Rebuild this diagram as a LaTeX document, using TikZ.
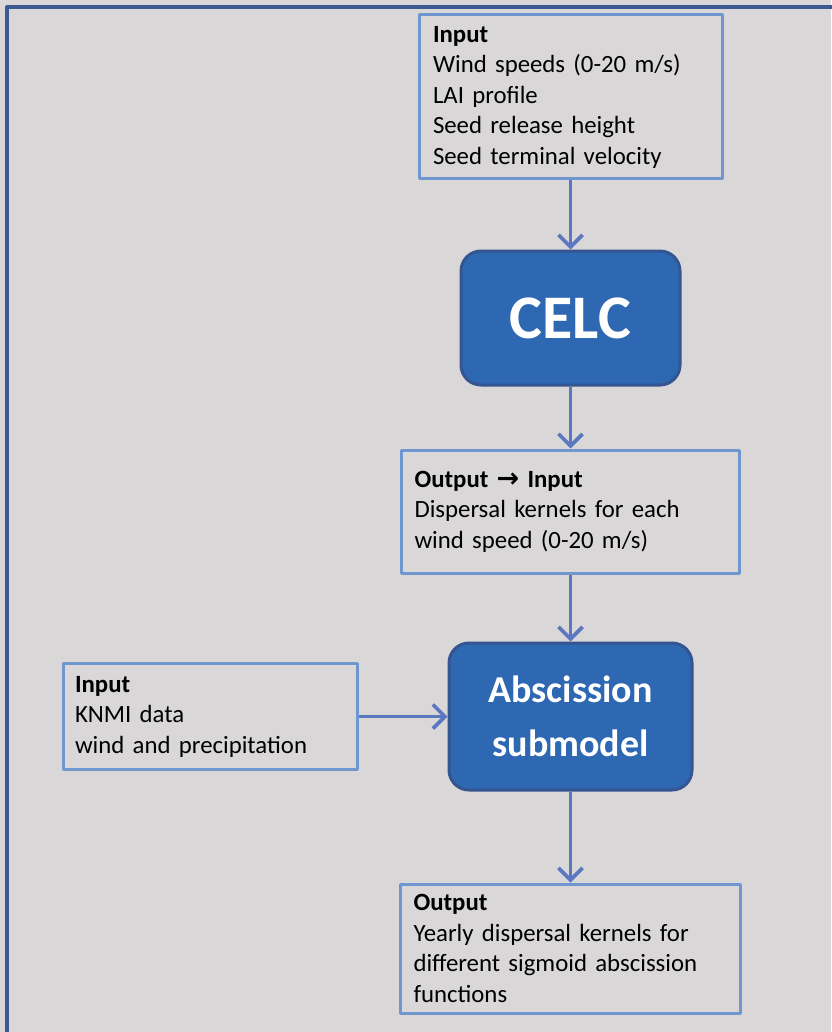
\documentclass[tikz,border=0pt]{standalone}
\usepackage{fontspec}
\setmainfont{Carlito}
\newfontfamily\arrowfont{DejaVu Sans}
\usetikzlibrary{arrows.meta}
\definecolor{pagegray}{HTML}{D9D7D8}
\definecolor{framblue}{HTML}{3E5894}
\definecolor{boxline}{HTML}{7096D0}
\definecolor{arrowblue}{HTML}{5A77BF}
\definecolor{modelfill}{HTML}{2E67B2}
\definecolor{modelline}{HTML}{34558F}
\begin{document}
\begin{tikzpicture}[x=.5pt, y=-.5pt, font=\fontsize{12.4}{15.25}\selectfont, line join=round,
  >={Straight Barb[length=6pt,width=12pt,line width=1.8pt]},
  infobox/.style={draw=boxline, line width=1.5pt, align=left, inner ysep=0pt},
  modelbox/.style={draw=modelline, fill=modelfill, line width=1.5pt, rounded corners=10pt,
    text=white, align=center, font=\fontsize{19}{27}\selectfont\bfseries},
  flow/.style={draw=arrowblue, line width=1.9pt, ->}]
	\useasboundingbox (0,0) rectangle (831,1032);
	\fill[pagegray] (0,0) rectangle (831,1032);
	\draw[framblue, line width=2pt] (7,1040) |- (840,7);
	
	\node[infobox, text width=137.5pt, inner xsep=7pt, minimum height=82pt] (input) at (570.5,97)
		{\textbf{Input}\\Wind speeds (0-20 m/s)\\LAI profile\\Seed release height\\Seed terminal velocity};
	\node[modelbox, minimum width=109.5pt, minimum height=67pt, font=\fontsize{31}{36}\selectfont\bfseries] (celc) at (570.5,318) {CELC};
	\node[infobox, text width=156pt, inner xsep=6.5pt, minimum height=61.5pt] (kernels) at (570.5,511.5)
		{\textbf{Output {\arrowfont\bfseries\fontsize{13.5}{15.25}\selectfont →} Input}\\Dispersal kernels for each\\wind speed (0-20 m/s)};
	\node[modelbox, minimum width=121.5pt, minimum height=73.5pt] (absc) at (570.5,716.5) {Abscission\\submodel};
	\node[infobox, text width=135pt, inner xsep=6pt, minimum height=53pt] (knmi) at (210,716.5)
		{\textbf{Input}\\KNMI data\\wind and precipitation};
	\node[infobox, text width=157pt, inner xsep=6.5pt, minimum height=64.5pt] (yearly) at (570.5,948.5)
		{\textbf{Output}\\Yearly dispersal kernels for\\different sigmoid abscission\\functions};
	
	\draw[flow] (input) -- (celc);
	\draw[flow] (celc) -- (kernels);
	\draw[flow] (kernels) -- (absc);
	\draw[flow] (knmi) -- (absc);
	\draw[flow] (absc) -- (yearly);
\end{tikzpicture}
\end{document}
